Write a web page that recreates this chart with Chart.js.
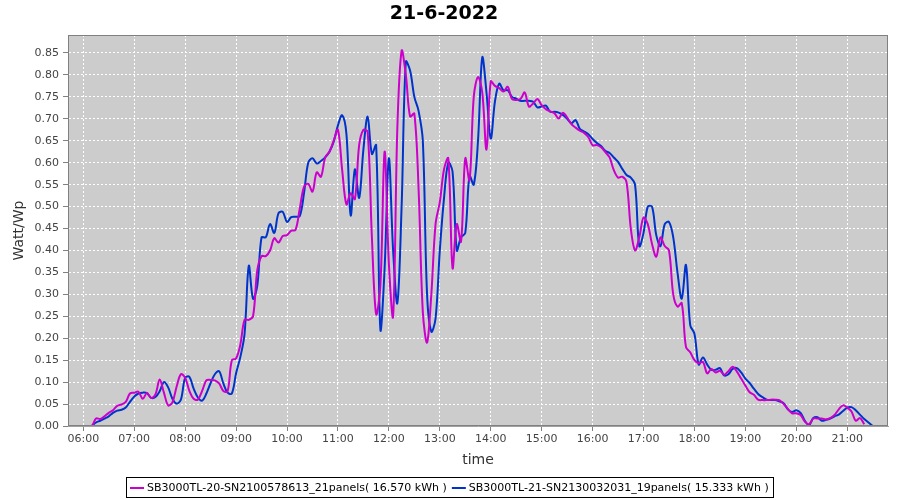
<!DOCTYPE html>
<html>
<head>
<meta charset="utf-8">
<script src="https://cdn.jsdelivr.net/npm/chart.js@4.4.0/dist/chart.umd.min.js"></script>
<style>
    html, body { margin: 0; padding: 0; background: #ffffff; }
    #wrap { width: 900px; height: 500px; }
</style>
</head>
<body>
<div id="wrap"><canvas id="power-line-chart" width="900" height="500"></canvas></div>
<script>
const chartTitle = "21-6-2022";

const times = [
    "06:00", "06:05", "06:10", "06:15", "06:20", "06:25", "06:30", "06:35", "06:40", "06:45", "06:50", "06:55",
    "07:00", "07:05", "07:10", "07:15", "07:20", "07:25", "07:30", "07:35", "07:40", "07:45", "07:50", "07:55",
    "08:00", "08:05", "08:10", "08:15", "08:20", "08:25", "08:30", "08:35", "08:40", "08:45", "08:50", "08:55",
    "09:00", "09:05", "09:10", "09:15", "09:20", "09:25", "09:30", "09:35", "09:40", "09:45", "09:50", "09:55",
    "10:00", "10:05", "10:10", "10:15", "10:20", "10:25", "10:30", "10:35", "10:40", "10:45", "10:50", "10:55",
    "11:00", "11:05", "11:10", "11:15", "11:20", "11:25", "11:30", "11:35", "11:40", "11:45", "11:50", "11:55",
    "12:00", "12:05", "12:10", "12:15", "12:20", "12:25", "12:30", "12:35", "12:40", "12:45", "12:50", "12:55",
    "13:00", "13:05", "13:10", "13:15", "13:20", "13:25", "13:30", "13:35", "13:40", "13:45", "13:50", "13:55",
    "14:00", "14:05", "14:10", "14:15", "14:20", "14:25", "14:30", "14:35", "14:40", "14:45", "14:50", "14:55",
    "15:00", "15:05", "15:10", "15:15", "15:20", "15:25", "15:30", "15:35", "15:40", "15:45", "15:50", "15:55",
    "16:00", "16:05", "16:10", "16:15", "16:20", "16:25", "16:30", "16:35", "16:40", "16:45", "16:50", "16:55",
    "17:00", "17:05", "17:10", "17:15", "17:20", "17:25", "17:30", "17:35", "17:40", "17:45", "17:50", "17:55",
    "18:00", "18:05", "18:10", "18:15", "18:20", "18:25", "18:30", "18:35", "18:40", "18:45", "18:50", "18:55",
    "19:00", "19:05", "19:10", "19:15", "19:20", "19:25", "19:30", "19:35", "19:40", "19:45", "19:50", "19:55",
    "20:00", "20:05", "20:10", "20:15", "20:20", "20:25", "20:30", "20:35", "20:40", "20:45", "20:50", "20:55",
    "21:00", "21:05", "21:10", "21:15", "21:20", "21:25", "21:30"
];

// inverter 1 (magenta), Watt per Wp
const sn2100578613 = [
    0.000, 0.000, 0.000, 0.017, 0.016, 0.022, 0.030, 0.036, 0.046, 0.049, 0.055, 0.074,
    0.076, 0.078, 0.062, 0.075, 0.064, 0.072, 0.106, 0.076, 0.047, 0.054, 0.090, 0.118,
    0.110, 0.080, 0.062, 0.060, 0.080, 0.104, 0.105, 0.104, 0.097, 0.080, 0.079, 0.150,
    0.154, 0.185, 0.242, 0.242, 0.250, 0.355, 0.387, 0.387, 0.400, 0.428, 0.418, 0.433,
    0.435, 0.445, 0.447, 0.495, 0.545, 0.552, 0.534, 0.578, 0.568, 0.612, 0.625, 0.650,
    0.675, 0.583, 0.505, 0.530, 0.517, 0.640, 0.675, 0.670, 0.430, 0.255, 0.320, 0.625,
    0.370, 0.250, 0.680, 0.855, 0.800, 0.705, 0.712, 0.540, 0.260, 0.190, 0.300, 0.460,
    0.510, 0.585, 0.610, 0.360, 0.460, 0.420, 0.610, 0.560, 0.750, 0.795, 0.760, 0.630,
    0.785, 0.775, 0.770, 0.762, 0.773, 0.745, 0.743, 0.745, 0.760, 0.728, 0.735, 0.745,
    0.731, 0.722, 0.717, 0.713, 0.701, 0.714, 0.703, 0.688, 0.680, 0.673, 0.668, 0.658,
    0.640, 0.640, 0.635, 0.624, 0.612, 0.583, 0.566, 0.568, 0.555, 0.450, 0.400, 0.430,
    0.475, 0.460, 0.415, 0.386, 0.430, 0.410, 0.400, 0.300, 0.272, 0.280, 0.180, 0.168,
    0.150, 0.143, 0.146, 0.120, 0.130, 0.122, 0.126, 0.117, 0.125, 0.135, 0.124, 0.108,
    0.092, 0.077, 0.071, 0.060, 0.059, 0.059, 0.060, 0.060, 0.059, 0.050, 0.039, 0.029,
    0.029, 0.025, 0.010, 0.004, 0.017, 0.017, 0.017, 0.015, 0.018, 0.025, 0.038, 0.047,
    0.042, 0.033, 0.012, 0.018, 0.004, null, null
];

// inverter 2 (blue), Watt per Wp
const sn2130032031 = [
    null, null, 0.000, 0.008, 0.012, 0.017, 0.022, 0.030, 0.035, 0.037, 0.042, 0.055,
    0.067, 0.074, 0.076, 0.075, 0.064, 0.066, 0.079, 0.100, 0.088, 0.062, 0.051, 0.060,
    0.110, 0.112, 0.085, 0.065, 0.058, 0.074, 0.098, 0.118, 0.125, 0.097, 0.076, 0.074,
    0.120, 0.157, 0.210, 0.365, 0.290, 0.320, 0.430, 0.430, 0.460, 0.440, 0.485, 0.488,
    0.465, 0.476, 0.477, 0.478, 0.530, 0.600, 0.610, 0.598, 0.604, 0.612, 0.625, 0.648,
    0.685, 0.708, 0.665, 0.480, 0.585, 0.520, 0.630, 0.705, 0.620, 0.640, 0.220, 0.360,
    0.610, 0.400, 0.280, 0.500, 0.830, 0.810, 0.750, 0.718, 0.650, 0.300, 0.215, 0.245,
    0.400, 0.520, 0.600, 0.580, 0.400, 0.430, 0.440, 0.570, 0.550, 0.650, 0.840, 0.760,
    0.655, 0.740, 0.780, 0.765, 0.765, 0.750, 0.746, 0.741, 0.741, 0.741, 0.739, 0.726,
    0.728, 0.730, 0.716, 0.716, 0.714, 0.709, 0.700, 0.690, 0.697, 0.677, 0.671, 0.665,
    0.654, 0.645, 0.638, 0.627, 0.622, 0.612, 0.602, 0.586, 0.572, 0.566, 0.550, 0.410,
    0.440, 0.500, 0.500, 0.435, 0.410, 0.460, 0.465, 0.430, 0.350, 0.290, 0.367, 0.230,
    0.210, 0.140, 0.156, 0.140, 0.128, 0.128, 0.132, 0.115, 0.118, 0.130, 0.132, 0.122,
    0.108, 0.098, 0.085, 0.073, 0.066, 0.060, 0.059, 0.059, 0.056, 0.052, 0.038, 0.032,
    0.036, 0.030, 0.012, 0.002, 0.018, 0.020, 0.012, 0.014, 0.017, 0.022, 0.026, 0.034,
    0.042, 0.043, 0.036, 0.026, 0.016, 0.008, 0.000
];

const seriesNames = [
    "SB3000TL-20-SN2100578613_21panels( 16.570 kWh )",
    "SB3000TL-21-SN2130032031_19panels( 15.333 kWh )"
];
const seriesColors = ["#cc00cc", "#0033cc"];

const hourTicks = ["06:00", "07:00", "08:00", "09:00", "10:00", "11:00", "12:00", "13:00",
    "14:00", "15:00", "16:00", "17:00", "18:00", "19:00", "20:00", "21:00"];
const valueTicks = [0, 0.05, 0.10, 0.15, 0.20, 0.25, 0.30, 0.35, 0.40, 0.45,
    0.50, 0.55, 0.60, 0.65, 0.70, 0.75, 0.80, 0.85];

const toHours = t => {
    const [h, m] = t.split(":").map(Number);
    return h + m / 60;
};
const hourLabel = v => {
    const h = Math.floor(v + 1e-6);
    const m = Math.round((v - h) * 60);
    return String(h).padStart(2, "0") + ":" + String(m).padStart(2, "0");
};

const plotBackground = {
    id: "plotBackground",
    beforeDraw(chart) {
        const { ctx, chartArea: a } = chart;
        ctx.save();
        ctx.fillStyle = "#cccccc";
        ctx.fillRect(a.left, a.top, a.right - a.left, a.bottom - a.top);
        ctx.restore();
    },
    afterDraw(chart) {
        const { ctx, chartArea: a } = chart;
        ctx.save();
        ctx.strokeStyle = "#808080";
        ctx.lineWidth = 1;
        ctx.strokeRect(a.left + 0.5, a.top + 0.5, a.right - a.left - 1, a.bottom - a.top - 1);
        ctx.restore();
    }
};

// boxed legend under the axis, like the original
const boxLegend = {
    id: "boxLegend",
    afterDraw(chart) {
        const ctx = chart.ctx;
        ctx.save();
        ctx.font = '11px "DejaVu Sans", sans-serif';
        const items = chart.data.datasets.map(ds => ({
            text: ds.label,
            color: ds.borderColor,
            w: ctx.measureText(ds.label).width
        }));
        const seg = 14, gap = 3, between = 5, pad = 4;
        let total = pad * 2 + between * (items.length - 1);
        items.forEach(it => total += seg + gap + it.w);
        const top = 477, h = 20;
        let x = Math.round(449 - total / 2);
        ctx.strokeStyle = "#000000";
        ctx.lineWidth = 1;
        ctx.strokeRect(x + 0.5, top + 0.5, Math.round(total), h);
        x += pad;
        const cy = top + h / 2 + 1;
        items.forEach(it => {
            ctx.strokeStyle = it.color;
            ctx.lineWidth = 2;
            ctx.beginPath();
            ctx.moveTo(x, cy);
            ctx.lineTo(x + seg, cy);
            ctx.stroke();
            x += seg + gap;
            ctx.fillStyle = "#000000";
            ctx.textBaseline = "middle";
            ctx.fillText(it.text, x, cy);
            x += it.w + between;
        });
        ctx.restore();
    }
};

const tickFont = { family: '"DejaVu Sans", sans-serif', size: 11 };

const ctx = document.getElementById("power-line-chart").getContext("2d");
new Chart(ctx, {
    type: "line",
    data: {
        datasets: [sn2100578613, sn2130032031].map((values, i) => ({
            label: seriesNames[i],
            data: times.map((t, k) => ({ x: toHours(t), y: values[k] })),
            borderColor: seriesColors[i],
            backgroundColor: seriesColors[i],
            borderWidth: 2,
            pointRadius: 0,
            tension: 0.35,
            fill: false
        }))
    },
    options: {
        responsive: false,
        animation: false,
        layout: { padding: { left: 0, right: 12, top: 0, bottom: 24 } },
        scales: {
            x: {
                type: "linear",
                min: 5.7,
                max: 21.8,
                afterBuildTicks: s => { s.ticks = hourTicks.map(t => ({ value: toHours(t) })); },
                afterFit: s => { s.height = 50; },
                ticks: {
                    autoSkip: false,
                    maxRotation: 0,
                    padding: 2,
                    color: "#444444",
                    font: tickFont,
                    callback: v => hourLabel(v)
                },
                grid: {
                    color: "#ffffff",
                    lineWidth: 1,
                    tickColor: "#808080",
                    tickLength: 5,
                    tickBorderDash: []
                },
                border: { display: true, color: "#a0a0a0", dash: [2, 2] },
                title: {
                    display: true,
                    text: "time",
                    color: "#333333",
                    font: { family: '"DejaVu Sans", sans-serif', size: 14 },
                    padding: { top: 0, bottom: 7 }
                }
            },
            y: {
                min: 0,
                max: 0.891,
                afterBuildTicks: s => { s.ticks = valueTicks.map(v => ({ value: v })); },
                afterFit: s => { s.width = 68; },
                ticks: {
                    padding: 4,
                    color: "#444444",
                    font: tickFont,
                    callback: v => v.toFixed(2)
                },
                grid: {
                    color: "#ffffff",
                    lineWidth: 1,
                    tickColor: "#808080",
                    tickLength: 5,
                    tickBorderDash: []
                },
                border: { display: true, color: "#a0a0a0", dash: [2, 2] },
                title: {
                    display: true,
                    text: "Watt/Wp",
                    color: "#333333",
                    font: { family: '"DejaVu Sans", sans-serif', size: 14 },
                    padding: { top: 11, bottom: 0 }
                }
            }
        },
        plugins: {
            title: {
                display: true,
                text: chartTitle,
                color: "#000000",
                font: { family: '"DejaVu Sans", sans-serif', size: 19, weight: "bold" },
                padding: { top: 3, bottom: 9.2 }
            },
            legend: { display: false },
            tooltip: { enabled: false }
        }
    },
    plugins: [plotBackground, boxLegend]
});
</script>
</body>
</html>
